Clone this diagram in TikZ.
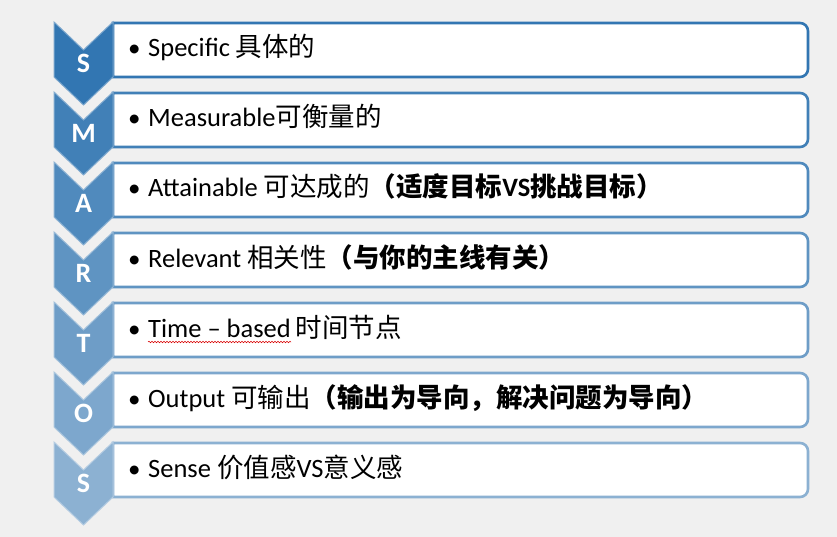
\documentclass[tikz,border=0pt]{standalone}
\usepackage{fontspec}
\setmainfont{Carlito}
\newfontfamily\cjk{Noto Sans CJK SC}
\usetikzlibrary{decorations.pathmorphing}
\definecolor{cA}{RGB}{50,118,178}
\definecolor{cB}{RGB}{140,177,210}
\definecolor{bg}{RGB}{240,240,240}
\tikzset{
  chev/.style={line width=1pt},
  rowbox/.style={fill=white, line width=2.6pt},
  letter/.style={text=white, font=\fontsize{28}{30}\selectfont\bfseries, inner sep=0pt},
  itemtxt/.style={anchor=base west, inner sep=0pt, font=\fontsize{26.5}{29}\selectfont},
  bul/.style={anchor=base west, inner sep=0pt, font=\fontsize{25}{28}\selectfont},
}
\begin{document}
\begin{tikzpicture}[x=1pt,y=-1pt]
\fill[bg] (0,0) rectangle (837,537);
\useasboundingbox (0,0) rectangle (837,537);
\foreach \k/\L/\T in {
  0/S/{Specific {\cjk 具体的}},
  1/M/{Measurable{\cjk 可衡量的}},
  2/A/{Attainable {\cjk 可达成的\bfseries（适度目标}\textbf{VS}{\cjk\bfseries 挑战目标）}},
  3/R/{Relevant {\cjk 相关性\bfseries（与你的主线有关）}},
  4/T/{},
  5/O/{Output {\cjk 可输出\bfseries（输出为导向，解决问题为导向）}},
  6/S/{Sense {\cjk 价值感}VS{\cjk 意义感}}}{
  \pgfmathsetmacro{\t}{22+70*\k}
  \pgfmathsetmacro{\p}{100*\k/6}
  \colorlet{cur}{cB!\p!cA}
  \draw[rowbox, draw=cur]
    (113,\t+1) -- (800,\t+1) arc[start angle=-90,end angle=0,radius=8]
    -- (808,\t+47) arc[start angle=0,end angle=90,radius=8] -- (113,\t+55) -- cycle;
  \draw[chev, fill=cur, draw=white!35!cur]
    (54,\t) -- (83.5,\t+28) -- (113,\t) -- (113,\t+55) -- (83.5,\t+83) -- (54,\t+55) -- cycle;
  \node[letter] (L\k) at (83.5,\t+41) {\L};
  \node[bul] (b\k) at (128,\t+35) {•};
  \node[itemtxt] (x\k) at (148,\t+35) {\T};
}
\node[itemtxt] (tb) at (148,337) {Time – based};
\node[itemtxt] (tc) at (tb.base east) {\,{\cjk 时间节点}};
\draw[red!85!black, line width=0.5pt, decorate, decoration={snake, amplitude=0.8pt, segment length=3pt}]
  ([yshift=-5pt]tb.base west) -- ([yshift=-5pt]tb.base east);
\end{tikzpicture}
\end{document}
